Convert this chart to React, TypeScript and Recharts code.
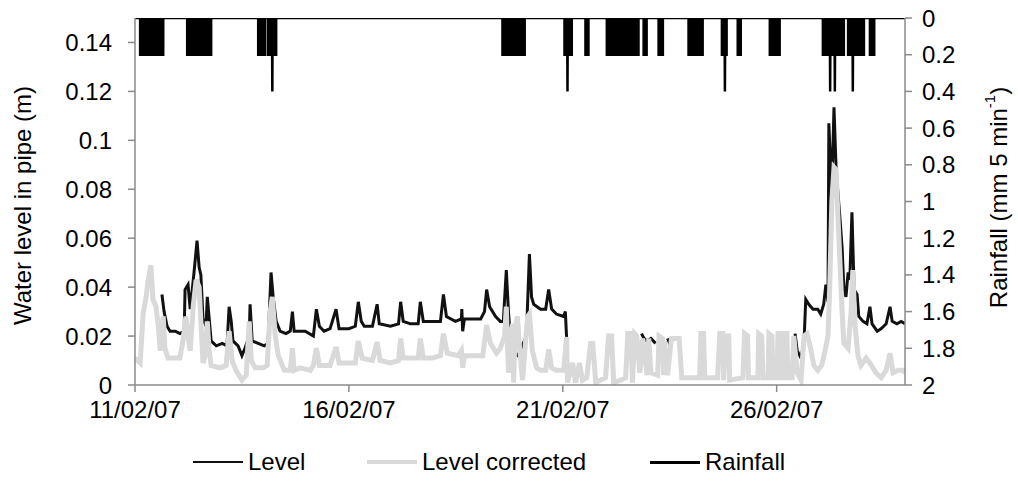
import React from 'react';
import { ComposedChart, Line, Area, XAxis, YAxis, Legend, Label } from 'recharts';

type Reading = [number, number | null];

// day since 11/02/07 00:00, water level in pipe (m); null = logger gap
const levelReadings: Reading[] = [
  [0.63, 0.037], [0.68, 0.03], [0.75, 0.024], [0.82, 0.022], [0.94, 0.022], [1.05, 0.021],
  [1.15, 0.022], [1.17, 0.039], [1.24, 0.041], [1.29, 0.031], [1.38, 0.046], [1.45, 0.059],
  [1.5, 0.048], [1.54, 0.045], [1.59, 0.027], [1.66, 0.024], [1.69, 0.036], [1.73, 0.028],
  [1.78, 0.018], [1.9, 0.016], [2.04, 0.017], [2.15, 0.016], [2.2, 0.032], [2.25, 0.026],
  [2.29, 0.018], [2.41, 0.016], [2.5, 0.012], [2.57, 0.015], [2.67, 0.02], [2.69, 0.033],
  [2.74, 0.018], [2.88, 0.017], [3.02, 0.016], [3.11, 0.017], [3.18, 0.046], [3.23, 0.036],
  [3.3, 0.026], [3.39, 0.022], [3.53, 0.021], [3.63, 0.022], [3.68, 0.03], [3.72, 0.022],
  [3.86, 0.022], [3.98, 0.022], [4.17, 0.02], [4.24, 0.031], [4.31, 0.024], [4.42, 0.022],
  [4.56, 0.023], [4.7, 0.031], [4.77, 0.023], [5.0, 0.023], [5.15, 0.024], [5.22, 0.034],
  [5.29, 0.026], [5.36, 0.024], [5.55, 0.024], [5.66, 0.033], [5.71, 0.025], [5.97, 0.024],
  [6.16, 0.025], [6.21, 0.034], [6.27, 0.026], [6.44, 0.025], [6.62, 0.025], [6.67, 0.034],
  [6.74, 0.026], [6.95, 0.026], [7.14, 0.026], [7.21, 0.037], [7.28, 0.028], [7.49, 0.026],
  [7.63, 0.027], [7.64, 0.031], [7.66, 0.022], [7.7, 0.027], [7.96, 0.027], [8.08, 0.027],
  [8.17, 0.03], [8.22, 0.039], [8.29, 0.032], [8.43, 0.028], [8.54, 0.026], [8.61, 0.026],
  [8.68, 0.047], [8.73, 0.03], [8.8, 0.014], [8.95, 0.012], [9.15, 0.02], [9.22, 0.0535],
  [9.27, 0.036], [9.32, 0.033], [9.48, 0.031], [9.6, 0.031], [9.67, 0.039], [9.74, 0.031],
  [9.85, 0.029], [10.02, 0.028], [10.06, 0.03], [10.09, 0.019],
  [10.1, null],
  [11.84, 0.021], [11.9, 0.019], [11.97, 0.018], [12.06, 0.019], [12.17, 0.017],
  [12.2, null],
  [12.45, 0.019], [12.52, 0.016],
  [12.6, null],
  [15.43, 0.021], [15.48, 0.014], [15.57, 0.011], [15.64, 0.018], [15.68, 0.035], [15.75, 0.033],
  [15.85, 0.031], [15.96, 0.031], [16.03, 0.029], [16.1, 0.033], [16.15, 0.041], [16.2, 0.034],
  [16.22, 0.107], [16.27, 0.085], [16.29, 0.08], [16.34, 0.1135], [16.39, 0.088], [16.43, 0.079],
  [16.48, 0.068], [16.53, 0.056], [16.57, 0.04], [16.62, 0.036], [16.67, 0.046], [16.71, 0.043],
  [16.76, 0.0706], [16.81, 0.039], [16.88, 0.037], [16.92, 0.028], [17.02, 0.026], [17.11, 0.025],
  [17.18, 0.032], [17.23, 0.025], [17.35, 0.022], [17.44, 0.023], [17.56, 0.025], [17.65, 0.032],
  [17.7, 0.026], [17.81, 0.025], [17.91, 0.026], [18.0, 0.025],
];

// day, corrected water level (m)
const correctedReadings: Reading[] = [
  [0.0, 0.011], [0.12, 0.009], [0.19, 0.029], [0.26, 0.036], [0.3, 0.042], [0.37, 0.049],
  [0.42, 0.035], [0.49, 0.032], [0.54, 0.025], [0.59, 0.014], [0.63, 0.022], [0.66, 0.028],
  [0.7, 0.015], [0.77, 0.011], [0.94, 0.011], [1.05, 0.011], [1.12, 0.018], [1.19, 0.028],
  [1.24, 0.02], [1.29, 0.014], [1.36, 0.032], [1.43, 0.043], [1.5, 0.04], [1.54, 0.026],
  [1.59, 0.009], [1.64, 0.012], [1.69, 0.026], [1.73, 0.015], [1.78, 0.008], [1.99, 0.007],
  [2.13, 0.008], [2.2, 0.022], [2.27, 0.01], [2.36, 0.006], [2.5, 0.002], [2.6, 0.004],
  [2.67, 0.026], [2.72, 0.01], [2.81, 0.007], [3.0, 0.007], [3.09, 0.008], [3.16, 0.03],
  [3.21, 0.036], [3.28, 0.02], [3.35, 0.012], [3.49, 0.006], [3.63, 0.006], [3.68, 0.015],
  [3.72, 0.006], [3.86, 0.007], [4.1, 0.006], [4.17, 0.008], [4.24, 0.015], [4.31, 0.008],
  [4.56, 0.008], [4.7, 0.0155], [4.77, 0.009], [5.0, 0.009], [5.15, 0.009], [5.22, 0.018],
  [5.31, 0.011], [5.55, 0.01], [5.66, 0.0175], [5.73, 0.01], [5.97, 0.009], [6.16, 0.01],
  [6.21, 0.019], [6.27, 0.011], [6.62, 0.011], [6.67, 0.019], [6.74, 0.011], [6.95, 0.011],
  [7.14, 0.012], [7.21, 0.021], [7.3, 0.013], [7.56, 0.012], [7.63, 0.014], [7.66, 0.007],
  [7.7, 0.012], [7.96, 0.012], [8.13, 0.012], [8.22, 0.0245], [8.31, 0.017], [8.45, 0.013],
  [8.54, 0.015], [8.64, 0.02], [8.68, 0.032], [8.73, 0.005], [8.78, 0.02], [8.83, 0.025],
  [8.85, 0.001], [8.89, 0.024], [8.94, 0.028], [8.99, 0.015], [9.06, 0.002], [9.13, 0.018],
  [9.18, 0.028], [9.22, 0.029], [9.29, 0.014], [9.39, 0.007], [9.48, 0.006], [9.6, 0.006],
  [9.67, 0.0145], [9.74, 0.007], [9.85, 0.006], [10.02, 0.006], [10.09, 0.0196], [10.11, 0.001],
  [10.23, 0.009], [10.3, 0.001], [10.39, 0.009], [10.46, 0.002], [10.56, 0.003], [10.65, 0.017],
  [10.7, 0.017], [10.77, 0.001], [11.0, 0.003], [11.07, 0.02], [11.14, 0.02], [11.19, 0.001],
  [11.35, 0.002], [11.47, 0.003], [11.52, 0.021], [11.59, 0.021], [11.63, 0.001], [11.68, 0.021],
  [11.73, 0.02], [11.8, 0.005], [11.87, 0.019], [11.97, 0.004], [12.01, 0.019], [12.06, 0.005],
  [12.22, 0.004], [12.25, 0.02], [12.33, 0.019], [12.36, 0.004], [12.38, 0.018], [12.45, 0.004],
  [12.54, 0.019], [12.72, 0.019], [12.78, 0.003], [12.99, 0.003], [13.2, 0.003], [13.23, 0.021],
  [13.29, 0.021], [13.32, 0.003], [13.62, 0.003], [13.67, 0.021], [13.74, 0.021], [13.76, 0.002],
  [13.81, 0.02], [13.88, 0.02], [13.9, 0.002], [14.21, 0.003], [14.25, 0.021], [14.32, 0.02],
  [14.34, 0.003], [14.56, 0.003], [14.58, 0.021], [14.65, 0.02], [14.68, 0.003], [14.8, 0.003],
  [14.82, 0.021], [14.89, 0.02], [14.91, 0.003], [15.01, 0.003], [15.03, 0.021], [15.1, 0.021],
  [15.12, 0.003], [15.15, 0.003], [15.17, 0.021], [15.24, 0.021], [15.26, 0.003], [15.36, 0.003],
  [15.4, 0.02], [15.48, 0.005], [15.57, 0.002], [15.64, 0.02], [15.71, 0.021], [15.78, 0.016],
  [15.87, 0.008], [15.96, 0.006], [16.05, 0.008], [16.12, 0.013], [16.2, 0.02], [16.24, 0.04],
  [16.29, 0.075], [16.34, 0.089], [16.39, 0.088], [16.43, 0.07], [16.48, 0.05], [16.53, 0.03],
  [16.57, 0.017], [16.67, 0.015], [16.74, 0.03], [16.78, 0.047], [16.83, 0.025], [16.9, 0.012],
  [16.97, 0.008], [17.09, 0.011], [17.18, 0.009], [17.32, 0.005], [17.44, 0.003], [17.56, 0.006],
  [17.65, 0.013], [17.72, 0.005], [17.84, 0.006], [17.95, 0.006], [18.0, 0.005],
];

// rain spells: start day, end day, mm per 5 min
const rainSpells: [number, number, number][] = [
  [0.12, 0.66, 0.2], [1.22, 1.67, 0.2], [1.69, 1.78, 0.2], [2.88, 3.04, 0.2], [3.11, 3.3, 0.2],
  [8.59, 9.11, 0.2], [10.04, 10.21, 0.2], [10.53, 10.6, 0.2], [11.03, 11.52, 0.2], [11.54, 11.77, 0.2],
  [11.89, 11.96, 0.2], [12.24, 12.34, 0.2], [12.94, 13.06, 0.2], [13.09, 13.16, 0.2], [13.2, 13.27, 0.2],
  [13.72, 13.83, 0.2], [14.09, 14.16, 0.2], [14.84, 15.07, 0.2], [16.08, 16.57, 0.2], [16.67, 17.04, 0.2],
  [17.18, 17.28, 0.2],
];
// single heavier 5-min readings: day, mm per 5 min
const rainBursts: [number, number][] = [
  [3.21, 0.4], [10.11, 0.4], [13.79, 0.4], [16.25, 0.4], [16.36, 0.4], [16.78, 0.4],
];

const dayTicks = [0, 5, 10, 15];
const dayLabels = ['11/02/07', '16/02/07', '21/02/07', '26/02/07'];
const levelTicks = [0, 0.02, 0.04, 0.06, 0.08, 0.1, 0.12, 0.14];
const rainTicks = [0, 0.2, 0.4, 0.6, 0.8, 1, 1.2, 1.4, 1.6, 1.8, 2];

const levelData = levelReadings.map(([t, v]) => ({ t, level: v }));
const correctedData = correctedReadings.map(([t, v]) => ({ t, corrected: v }));

const rainData: { t: number; rain: number }[] = [{ t: 0, rain: 0 }];
rainSpells.forEach(([from, to, depth]) => {
  rainData.push({ t: from, rain: 0 }, { t: from, rain: depth });
  rainBursts
    .filter(([d]) => d > from && d < to)
    .forEach(([d, v]) => {
      rainData.push({ t: d - 0.004, rain: depth }, { t: d, rain: v }, { t: d + 0.004, rain: depth });
    });
  rainData.push({ t: to, rain: depth }, { t: to, rain: 0 });
});
rainData.push({ t: 18, rain: 0 });

const FONT = '"Liberation Sans", Arial, Helvetica, sans-serif';
const AXIS = '#8a8a8a';

const legendItems = [
  { name: 'Level', color: '#111', thickness: 2, left: 193 },
  { name: 'Level corrected', color: '#d9d9d9', thickness: 4, left: 367 },
  { name: 'Rainfall', color: '#000', thickness: 3, left: 650 },
];

const renderLegend = () => (
  <div style={{ position: 'relative', width: 1018, height: 36, fontSize: 24, color: '#000' }}>
    {legendItems.map((item) => (
      <div
        key={item.name}
        style={{ position: 'absolute', left: item.left, top: 0, height: 36, display: 'flex', alignItems: 'center' }}
      >
        <span style={{ display: 'inline-block', width: 50, height: item.thickness, background: item.color }} />
        <span style={{ marginLeft: 5, lineHeight: '36px' }}>{item.name}</span>
      </div>
    ))}
  </div>
);

const LevelTitle = (props: any) => {
  const { x, y, height } = props.viewBox;
  const cx = x + 22;
  const cy = y + height / 2 + 4;
  return (
    <text x={cx} y={cy} transform={`rotate(-90 ${cx} ${cy})`} textAnchor="middle" dominantBaseline="central"
      fontSize={24} fill="#000" fontFamily={FONT}>
      Water level in pipe (m)
    </text>
  );
};

const RainTitle = (props: any) => {
  const { x, y, height } = props.viewBox;
  const cx = x + 93;
  const cy = y + height / 2 - 4;
  return (
    <text x={cx} y={cy} transform={`rotate(-90 ${cx} ${cy})`} textAnchor="middle" dominantBaseline="central"
      fontSize={24} fill="#000" fontFamily={FONT}>
      Rainfall (mm 5 min<tspan dy={-9} fontSize={15}>-1</tspan><tspan dy={9}>)</tspan>
    </text>
  );
};

const App = () => (
  <div style={{ position: 'absolute', left: 0, top: 0, fontFamily: FONT }}>
    <ComposedChart width={1018} height={503} margin={{ top: 18, right: 0, left: 0, bottom: 32 }}>
      <XAxis
        dataKey="t"
        type="number"
        domain={[0, 18]}
        allowDataOverflow
        ticks={dayTicks}
        interval={0}
        tickFormatter={(v: number) => dayLabels[dayTicks.indexOf(v)]}
        height={50}
        stroke={AXIS}
        strokeWidth={1.5}
        tickSize={7}
        tickMargin={9}
        tick={{ fill: '#000', fontSize: 24 }}
      />
      <YAxis
        yAxisId="level"
        orientation="left"
        width={135}
        domain={[0, 0.15]}
        allowDataOverflow
        ticks={levelTicks}
        interval={0}
        stroke={AXIS}
        strokeWidth={1.5}
        tickSize={7}
        tickMargin={16}
        tick={{ fill: '#000', fontSize: 24 }}
      >
        <Label content={LevelTitle} />
      </YAxis>
      <YAxis
        yAxisId="rain"
        orientation="right"
        width={113}
        domain={[0, 2]}
        reversed
        allowDataOverflow
        ticks={rainTicks}
        interval={0}
        stroke={AXIS}
        strokeWidth={1.5}
        tickSize={7}
        tickMargin={10}
        tick={{ fill: '#000', fontSize: 24 }}
      >
        <Label content={RainTitle} />
      </YAxis>
      <Legend content={renderLegend} wrapperStyle={{ left: 0, top: 444, width: 1018 }} />
      <Line
        data={levelData}
        yAxisId="level"
        dataKey="level"
        name="Level"
        type="linear"
        stroke="#111"
        strokeWidth={3}
        dot={false}
        activeDot={false}
        isAnimationActive={false}
      />
      <Line
        data={correctedData}
        yAxisId="level"
        dataKey="corrected"
        name="Level corrected"
        type="linear"
        stroke="#d9d9d9"
        strokeWidth={5}
        dot={false}
        activeDot={false}
        isAnimationActive={false}
      />
      <Area
        data={rainData}
        yAxisId="rain"
        dataKey="rain"
        name="Rainfall"
        type="linear"
        baseValue={0}
        stroke="#000"
        strokeWidth={2.5}
        fill="#000"
        fillOpacity={1}
        dot={false}
        activeDot={false}
        isAnimationActive={false}
      />
    </ComposedChart>
  </div>
);

export default App;
